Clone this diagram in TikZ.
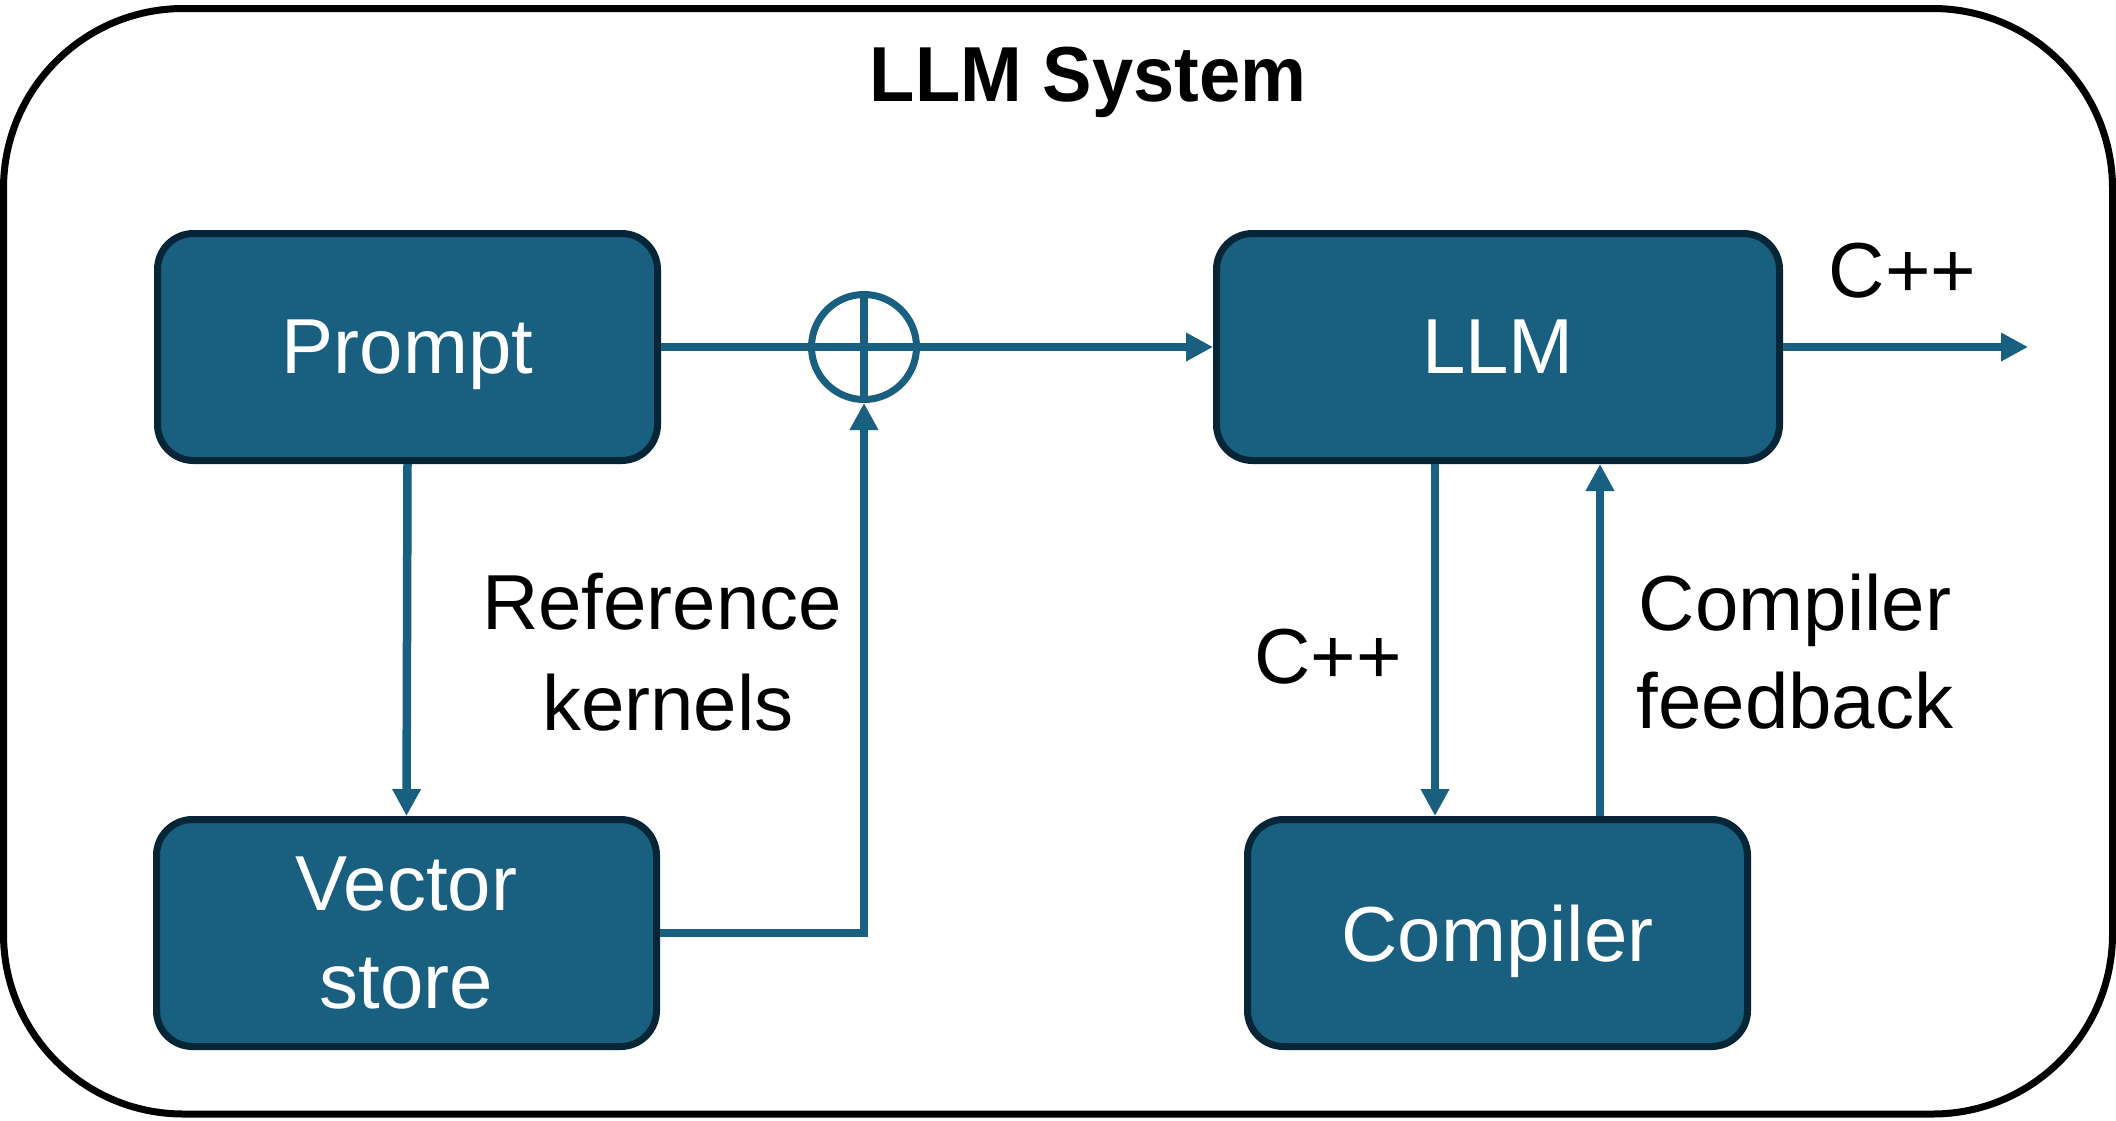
\documentclass[tikz,border=0pt]{standalone}
\usepackage{fontspec}
\setmainfont{Liberation Sans}
\newfontfamily\titlefont{Liberation Sans}[FakeStretch=0.95]
\usetikzlibrary{arrows.meta}
\definecolor{tealbox}{RGB}{24,95,128}
\definecolor{navyline}{RGB}{6,37,54}
\begin{document}
\begin{tikzpicture}[x=1pt,y=-1pt,
  blk/.style={draw=navyline, fill=tealbox, line width=7pt, rounded corners=36pt,
    text=white, font=\fontsize{78}{98}\selectfont, align=center,
    text depth=0pt, inner sep=0pt, minimum height=227pt},
  conn/.style={draw=tealbox, line width=8.5pt},
  arrowed/.style={conn, -{Triangle[length=27pt,width=27pt]}},
  lbl/.style={font=\fontsize{78}{98}\selectfont, anchor=base, inner sep=0pt},
]
\useasboundingbox (0,0) rectangle (2116,1120);
\fill[white] (0,0) rectangle (2116,1120);

% outer system frame
\node[draw=black, line width=7pt, rounded corners=180pt, minimum width=2109pt,
  minimum height=1105.5pt, inner sep=0pt] (sys) at (1058,561.25) {};
\node[font=\titlefont\bfseries\fontsize{78}{98}\selectfont, anchor=base, inner sep=0pt] (title) at (1088,101) {LLM System};

% blocks
\node[blk, minimum width=500pt] (prompt) at (407.5,347) {Prompt};
\node[blk, minimum width=500pt] (vs) at (406.5,933) {Vector\\store};
\node[blk, minimum width=563pt] (llm) at (1498,347) {LLM};
\node[blk, minimum width=500pt] (comp) at (1497.5,933) {Compiler};

% summing junction
\node[circle, draw=tealbox, fill=white, line width=7pt, minimum size=105pt, inner sep=0pt] (sum) at (864,347) {};

\coordinate (dx) at (1435,0);
\coordinate (ux) at (1600,0);
\coordinate (out) at (2028,347);

% connectors
\draw[conn] (prompt.east) -- (sum.west);
\draw[conn] (sum.north) -- (sum.south);
\draw[conn] (sum.west) -- (sum.east);
\draw[arrowed] (sum.east) -- (llm.west);
\draw[arrowed] (prompt.south) -- (vs.north);
\draw[arrowed] (vs.east) -- (vs.east -| sum.south) -- (sum.south);
\draw[arrowed] (llm.east) -- (out);
\draw[arrowed] (llm.south -| dx) -- (comp.north -| dx);
\draw[arrowed] (comp.north -| ux) -- (llm.south -| ux);

% labels
\node[lbl] (cppout) at (1902.5,297) {C++};
\node[lbl] (cppdown) at (1328,683) {C++};
\node[lbl] (fb1) at (1795,630) {Compiler};
\node[lbl] (fb2) at (1795,728) {feedback};
\node[lbl] (rk1) at (662,629) {Reference};
\node[lbl] (rk2) at (668,730) {kernels};
\end{tikzpicture}
\end{document}
